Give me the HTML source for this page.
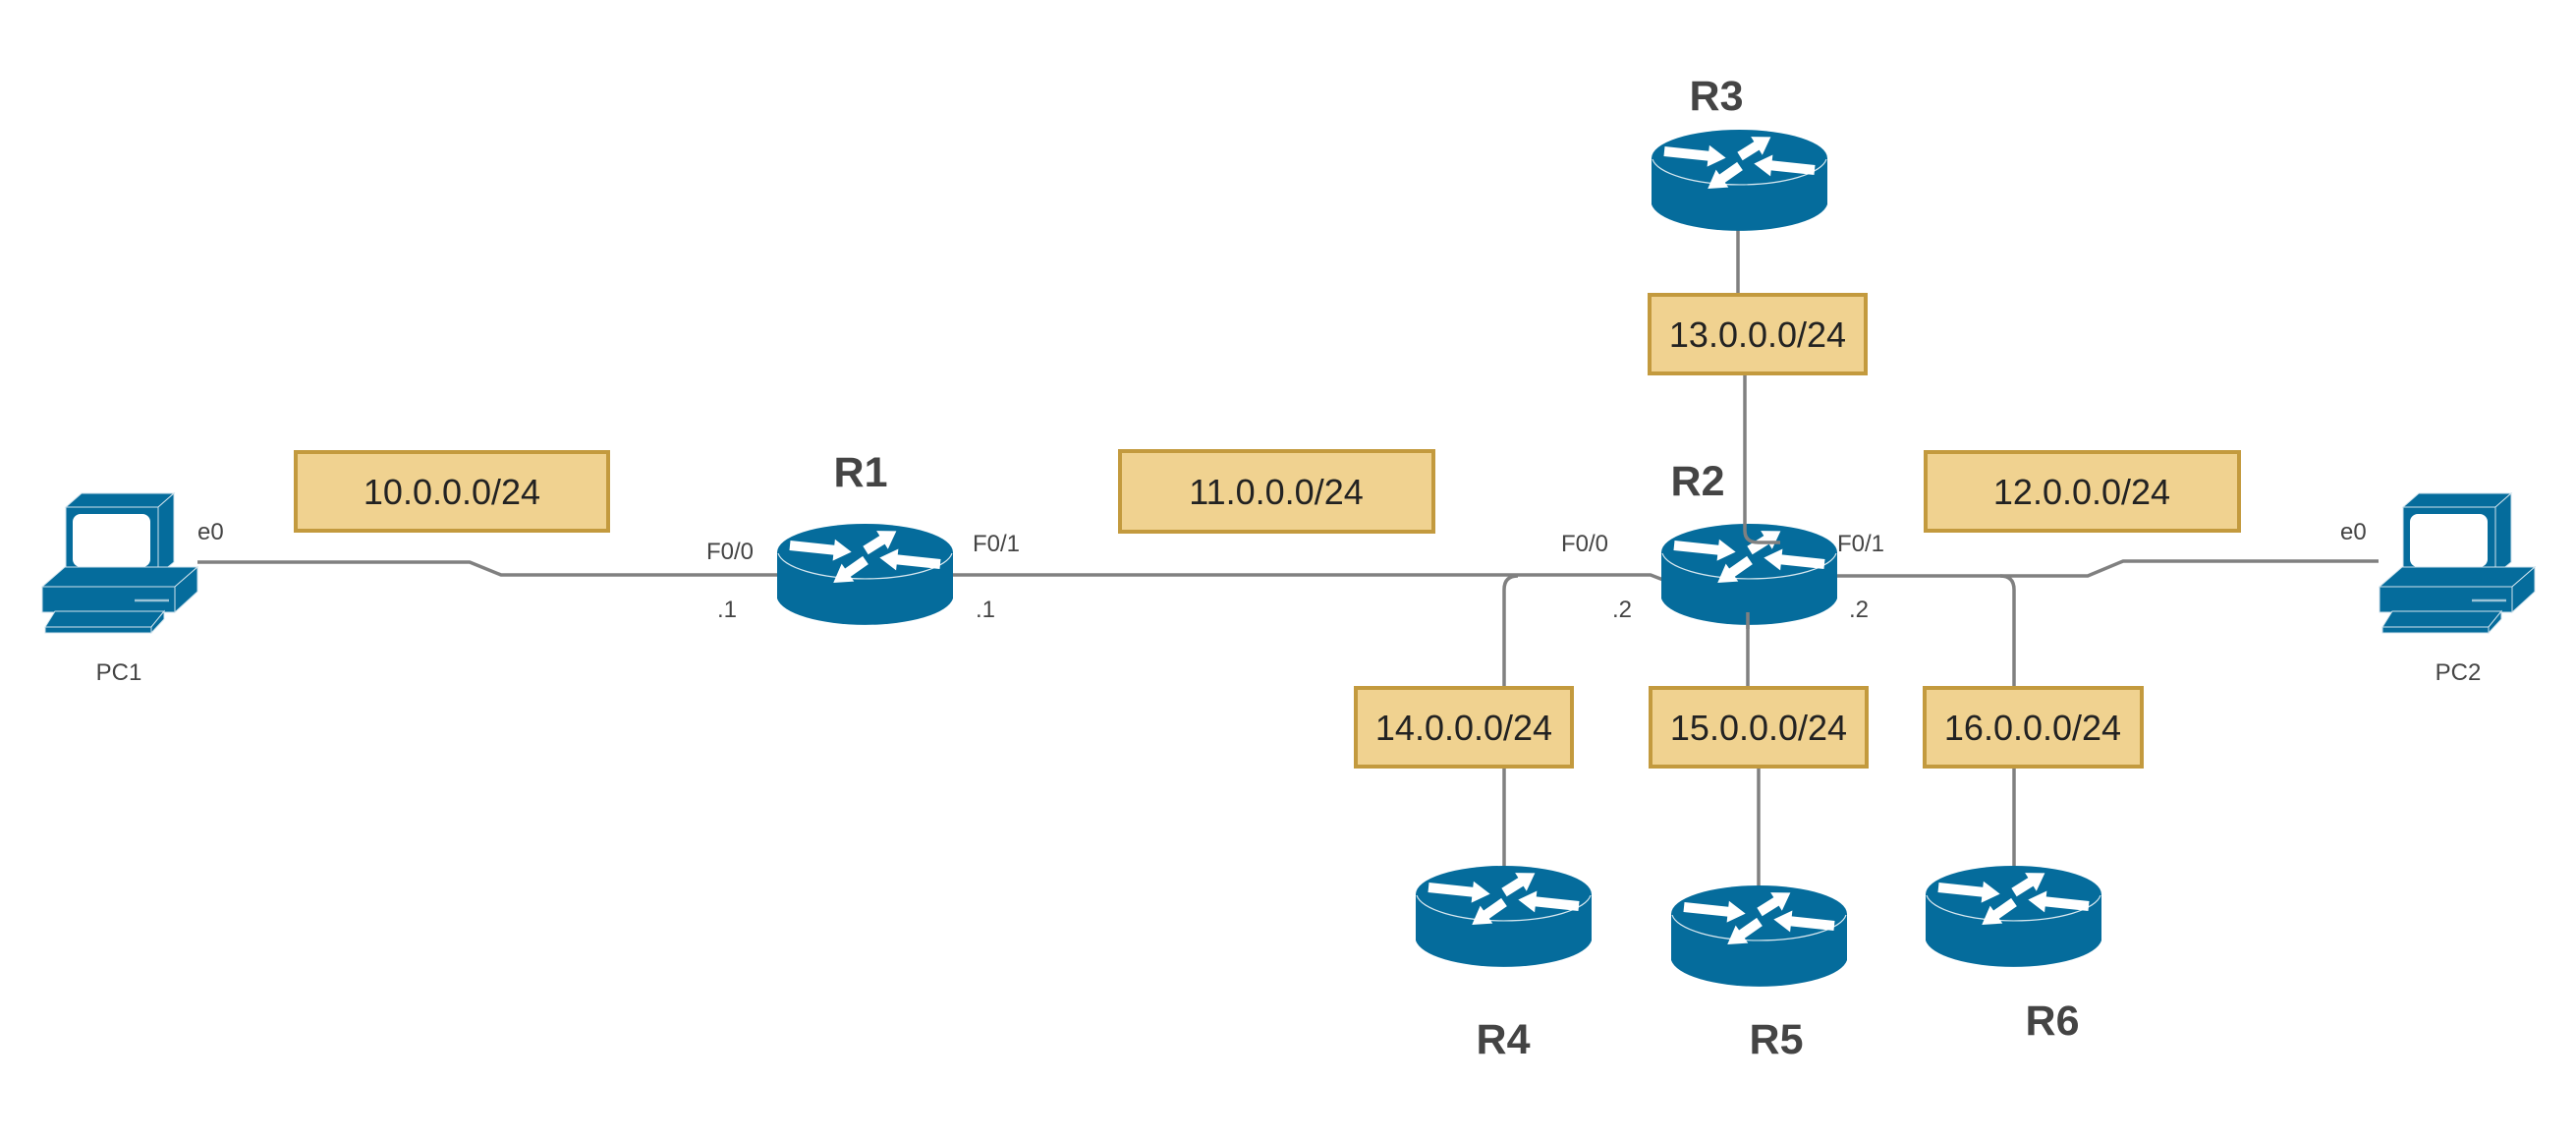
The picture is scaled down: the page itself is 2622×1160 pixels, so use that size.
<!DOCTYPE html>
<html><head><meta charset="utf-8"><style>
html,body{margin:0;padding:0;background:#fff;}
svg{display:block;}
text{font-family:"Liberation Sans",sans-serif;}
.lbl{fill:#444;font-size:24px;}
.rn{fill:#444;font-size:43px;font-weight:bold;}
.net{fill:#222;font-size:36px;}
.ln{stroke:#808080;stroke-width:3.5;fill:none;stroke-linejoin:round;}
.box{fill:#f0d290;stroke:#c39a3e;stroke-width:4;}
</style></head><body>
<svg width="2622" height="1160" viewBox="0 0 2622 1160" xmlns="http://www.w3.org/2000/svg">
<defs>
<g id="rt">
  <path d="M0,29 L0,76 A90,30 0 0 0 179,76 L179,29 Z" fill="#056c9c"/>
  <ellipse cx="89.5" cy="29" rx="89.5" ry="29" fill="#056c9c"/>
  <path d="M1,30 A89,29 0 0 0 178,30" fill="none" stroke="#d8e8f0" stroke-width="1.2"/>
  <g fill="#fff">
    <g transform="translate(13,22) rotate(6)"><polygon points="0,-5 45,-5 45,-11 63,0 45,11 45,5 0,5"/></g>
    <g transform="translate(90,27) rotate(-32)"><polygon points="0,-5 20,-5 20,-11 37,0 20,11 20,5 0,5"/></g>
    <g transform="translate(166,41) rotate(186)"><polygon points="0,-5 44,-5 44,-11 62,0 44,11 44,5 0,5"/></g>
    <g transform="translate(90,37) rotate(145)"><polygon points="0,-5 22,-5 22,-11 40,0 22,11 22,5 0,5"/></g>
  </g>
</g>
<g id="pc" stroke="#cfe2ec" stroke-width="1" fill="#056c9c">
  <polygon points="46,36 62,22 156,22 140,36"/>
  <polygon points="140,36 156,22 156,92 140,105"/>
  <rect x="46" y="36" width="94" height="69"/>
  <rect x="53" y="43" width="79" height="54" rx="8" fill="#fff" stroke="none"/>
  <polygon points="22,117 45,97 180,97 157,117"/>
  <polygon points="157,117 180,97 180,122 157,143"/>
  <rect x="22" y="117" width="135" height="26"/>
  <line x1="116" y1="131" x2="151" y2="131" stroke="#9cc4d8" stroke-width="2.5"/>
  <polygon points="25,158 35,142 146,142 133,158"/>
  <polygon points="133,158 146,142 146,150 133,164"/>
  <rect x="25" y="158" width="108" height="6"/>
</g>
</defs>

<path class="ln" d="M201,572 L478,572 L510,585 L800,585"/>
<path class="ln" d="M960,585 L1680,585 L1698,592"/>
<path class="ln" d="M1860,586 L2125,586 L2161,571 L2421,571"/>
<path class="ln" d="M1545,586 Q1531,586 1531,600 L1531,699"/>
<path class="ln" d="M1531,781 L1531,890"/>
<path class="ln" d="M2036,586 Q2050,586 2050,600 L2050,699"/>
<path class="ln" d="M2050,781 L2050,890"/>
<path class="ln" d="M1779,623 L1779,699"/>
<path class="ln" d="M1790,781 L1790,905"/>
<path class="ln" d="M1769,230 L1769,299"/>

<use href="#rt" x="791" y="533"/>
<use href="#rt" x="1681" y="132"/>
<use href="#rt" x="1691" y="533"/>
<use href="#rt" x="1441" y="881"/>
<use href="#rt" x="1701" y="901"/>
<use href="#rt" x="1960" y="881"/>

<path class="ln" d="M1776,381 L1776,540 Q1776,552 1790,552 L1812,552"/>
<line x1="1779" y1="623" x2="1779" y2="640" stroke="#808080" stroke-width="3.5"/>

<use href="#pc" x="21" y="480"/>
<use href="#pc" x="2400" y="480"/>

<rect class="box" x="301" y="460" width="318" height="80"/>
<text class="net" x="460" y="513" text-anchor="middle">10.0.0.0/24</text>
<rect class="box" x="1140" y="459" width="319" height="82"/>
<text class="net" x="1299" y="513" text-anchor="middle">11.0.0.0/24</text>
<rect class="box" x="1960" y="460" width="319" height="80"/>
<text class="net" x="2119" y="513" text-anchor="middle">12.0.0.0/24</text>
<rect class="box" x="1679" y="300" width="220" height="80"/>
<text class="net" x="1789" y="353" text-anchor="middle">13.0.0.0/24</text>
<rect class="box" x="1380" y="700" width="220" height="80"/>
<text class="net" x="1490" y="753" text-anchor="middle">14.0.0.0/24</text>
<rect class="box" x="1680" y="700" width="220" height="80"/>
<text class="net" x="1790" y="753" text-anchor="middle">15.0.0.0/24</text>
<rect class="box" x="1959" y="700" width="221" height="80"/>
<text class="net" x="2069" y="753" text-anchor="middle">16.0.0.0/24</text>

<text class="rn" x="876" y="495" text-anchor="middle">R1</text>
<text class="rn" x="1728" y="504" text-anchor="middle">R2</text>
<text class="rn" x="1747" y="112" text-anchor="middle">R3</text>
<text class="rn" x="1530" y="1072" text-anchor="middle">R4</text>
<text class="rn" x="1808" y="1072" text-anchor="middle">R5</text>
<text class="rn" x="2089" y="1053" text-anchor="middle">R6</text>

<text class="lbl" x="201" y="549">e0</text>
<text class="lbl" x="2382" y="549">e0</text>
<text class="lbl" x="121" y="692" text-anchor="middle">PC1</text>
<text class="lbl" x="2502" y="692" text-anchor="middle">PC2</text>
<text class="lbl" x="719" y="569">F0/0</text>
<text class="lbl" x="730" y="628">.1</text>
<text class="lbl" x="990" y="561">F0/1</text>
<text class="lbl" x="993" y="628">.1</text>
<text class="lbl" x="1589" y="561">F0/0</text>
<text class="lbl" x="1641" y="628">.2</text>
<text class="lbl" x="1870" y="561">F0/1</text>
<text class="lbl" x="1882" y="628">.2</text>
</svg>
</body></html>
